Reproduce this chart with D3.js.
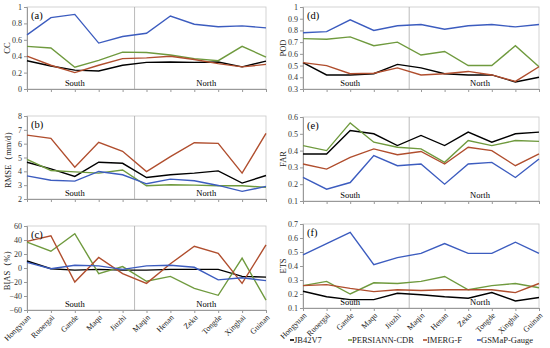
<!DOCTYPE html>
<html>
<head>
<meta charset="utf-8">
<script src="https://cdn.jsdelivr.net/npm/d3@7"></script>
<style>
  body { margin: 0; background: #fff; }
  svg text { font-family: "Liberation Serif", "Times New Roman", serif; }
</style>
</head>
<body>
<svg id="chart" width="550" height="348"></svg>
<script>
var stations = ["Hongyuan","Ruoergai","Gande","Maqu","Jiuzhi","Maqin","Henan","Zeku","Tongde","Xinghai","Guinan"]
var products = ["JB42V7","PERSIANN-CDR","IMERG-F","GSMaP-Gauge"]

// CC
var ccJB = [0.345,0.28,0.23,0.22,0.29,0.325,0.33,0.325,0.33,0.27,0.34]
var ccPE = [0.52,0.50,0.265,0.35,0.45,0.445,0.415,0.37,0.345,0.52,0.39]
var ccIM = [0.40,0.29,0.20,0.29,0.37,0.38,0.40,0.36,0.31,0.27,0.30]
var ccGS = [0.66,0.87,0.91,0.56,0.64,0.68,0.89,0.79,0.76,0.77,0.745]
// RMSE
var rmseJB = [4.66,4.18,3.63,4.66,4.58,3.55,3.75,3.87,4.03,3.15,3.7]
var rmsePE = [4.87,4.06,3.96,3.87,4.1,2.96,3.03,3.0,2.96,2.96,2.84]
var rmseIM = [6.62,6.38,4.3,6.1,5.45,3.98,5.06,6.07,6.02,3.87,6.74]
var rmseGS = [3.67,3.36,3.29,3.99,3.75,3.1,3.44,3.32,2.98,2.55,2.91]
// BIAS
var biasJB = [10,-1,-3,-2,-3,-3,-2,-2,-2,-12,-13]
var biasPE = [37,24,49,-8,2,-19,-12,-29,-39,14,-46]
var biasIM = [38,46,-20,15,-8,-22,6,31,21,-22,33]
var biasGS = [8,-1,4,3,-2,3,4,1,-17,-14,-18]
// POD
var podJB = [0.525,0.42,0.42,0.43,0.51,0.48,0.43,0.42,0.42,0.36,0.40]
var podPE = [0.73,0.725,0.745,0.67,0.70,0.59,0.62,0.50,0.50,0.67,0.49]
var podIM = [0.525,0.50,0.43,0.435,0.48,0.42,0.43,0.45,0.42,0.365,0.49]
var podGS = [0.78,0.79,0.89,0.80,0.84,0.85,0.81,0.84,0.85,0.83,0.85]
// FAR
var farJB = [0.38,0.38,0.52,0.50,0.43,0.49,0.43,0.51,0.45,0.50,0.51]
var farPE = [0.43,0.40,0.565,0.45,0.42,0.41,0.33,0.46,0.43,0.46,0.455]
var farIM = [0.32,0.29,0.36,0.41,0.375,0.395,0.32,0.42,0.40,0.31,0.38]
var farGS = [0.24,0.17,0.21,0.37,0.31,0.32,0.20,0.32,0.33,0.24,0.35]
// ETS
var etsJB = [0.22,0.18,0.16,0.16,0.205,0.195,0.18,0.17,0.21,0.15,0.175]
var etsPE = [0.26,0.29,0.20,0.28,0.275,0.29,0.325,0.23,0.26,0.275,0.245]
var etsIM = [0.26,0.267,0.24,0.217,0.23,0.225,0.23,0.23,0.23,0.21,0.275]
var etsGS = [0.48,0.56,0.64,0.41,0.46,0.49,0.56,0.49,0.49,0.57,0.49]

var colors = ["#000000","#6f9a3e","#b04e2e","#3c5cbf"]

var svg = d3.select("#chart")

var panels = [
  {tag:"(a)", title:"CC", x0:27, x1:266, y0:7, y1:89, dom:[0,1], ticks:d3.range(0,1.01,0.2), series:[ccJB,ccPE,ccIM,ccGS], tx:10, fmt:d3.format("~g")},
  {tag:"(b)", title:"RMSE\uFF08mm/d\uFF09", x0:27, x1:266, y0:116, y1:199, dom:[2,8], ticks:d3.range(2,8.01,1), series:[rmseJB,rmsePE,rmseIM,rmseGS], tx:11, fmt:d3.format("d")},
  {tag:"(c)", title:"BIAS\uFF08%\uFF09", x0:27, x1:266, y0:226, y1:310, dom:[-60,60], ticks:d3.range(-60,61,20), series:[biasJB,biasPE,biasIM,biasGS], tx:10, fmt:d3.format("d"), labels:true},
  {tag:"(d)", title:"POD", x0:303, x1:539, y0:7, y1:89, dom:[0.3,1], ticks:d3.range(0.3,1.001,0.1), series:[podJB,podPE,podIM,podGS], tx:286, fmt:d3.format("~g")},
  {tag:"(e)", title:"FAR", x0:303, x1:539, y0:117, y1:201, dom:[0.1,0.6], ticks:d3.range(0.1,0.601,0.1), series:[farJB,farPE,farIM,farGS], tx:286, fmt:d3.format(".1f")},
  {tag:"(f)", title:"ETS", x0:303, x1:539, y0:224, y1:308, dom:[0.1,0.7], ticks:d3.range(0.1,0.701,0.1), series:[etsJB,etsPE,etsIM,etsGS], tx:286, fmt:d3.format(".1f"), labels:true}
]

panels.forEach(function(p){
  var g = svg.append("g")
  var x = d3.scalePoint().domain(stations).range([p.x0, p.x1])
  var y = d3.scaleLinear().domain(p.dom).range([p.y1, p.y0])

  // plot frame
  g.append("rect")
   .attr("x", p.x0).attr("y", p.y0)
   .attr("width", p.x1 - p.x0).attr("height", p.y1 - p.y0)
   .attr("fill", "none").attr("stroke", "#c8c8c8").attr("stroke-width", 0.8)

  var yAxis = d3.axisLeft(y).tickValues(p.ticks).tickFormat(function(d){ return p.fmt(+d.toFixed(2)) }).tickSize(3).tickPadding(2)
  var ya = g.append("g").attr("transform", "translate(" + p.x0 + ",0)").call(yAxis)
  ya.select(".domain").attr("stroke", "#999")
  ya.selectAll(".tick line").attr("stroke", "#999")
  ya.selectAll("text").attr("font-size", "8px").attr("fill", "#333")
    .style("font-family", "'Liberation Serif', serif")

  var xAxis = d3.axisBottom(x).tickSize(3).tickFormat("")
  var xa = g.append("g").attr("transform", "translate(0," + p.y1 + ")").call(xAxis)
  xa.select(".domain").attr("stroke", "#999")
  xa.selectAll(".tick line").attr("stroke", "#999")

  if (p.labels) {
    g.selectAll(".stlab").data(stations).enter()
     .append("text")
     .attr("transform", function(d){ return "translate(" + (x(d) + 4) + "," + (p.y1 + 8) + ") rotate(-45)" })
     .attr("text-anchor", "end")
     .attr("font-size", "8px")
     .attr("fill", "#222")
     .text(function(d){ return d })
  }

  // south / north divider
  var mid = (x(stations[4]) + x(stations[5])) / 2
  g.append("line")
   .attr("x1", mid).attr("x2", mid).attr("y1", p.y0).attr("y2", p.y1)
   .attr("stroke", "#aaa").attr("stroke-width", 0.8)

  g.append("text").attr("x", x(stations[2])).attr("y", p.y1 - 3)
   .attr("text-anchor", "middle").attr("font-size", "8.5px").text("South")
  g.append("text").attr("x", (x(stations[7]) + x(stations[8])) / 2).attr("y", p.y1 - 3)
   .attr("text-anchor", "middle").attr("font-size", "8.5px").text("North")

  var line = d3.line()
               .x(function(d, i){ return x(stations[i]) })
               .y(function(d){ return y(d) })

  g.selectAll(".series").data(p.series).enter()
   .append("path")
   .attr("d", line)
   .attr("fill", "none")
   .attr("stroke", function(d, i){ return colors[i] })
   .attr("stroke-width", 1.4)

  g.append("text").attr("x", p.x0 + 4).attr("y", p.y0 + 12)
   .attr("font-size", "10.5px").attr("fill", "#000").text(p.tag)

  g.append("text")
   .attr("transform", "translate(" + p.tx + "," + ((p.y0 + p.y1) / 2) + ") rotate(-90)")
   .attr("text-anchor", "middle")
   .attr("font-size", "8.5px")
   .attr("fill", "#222")
   .text(p.title)
})

// legend
var legX = [290, 348, 423, 477]
var leg = svg.append("g").selectAll("g").data(products).enter().append("g")
leg.append("line")
   .attr("x1", function(d, i){ return legX[i] }).attr("x2", function(d, i){ return legX[i] + 4 })
   .attr("y1", 340).attr("y2", 340)
   .attr("stroke", function(d, i){ return colors[i] }).attr("stroke-width", 1.6)
leg.append("text")
   .attr("x", function(d, i){ return legX[i] + 4 }).attr("y", 343)
   .attr("font-size", "8.5px").attr("fill", "#222")
   .text(function(d){ return d })
</script>
</body>
</html>
